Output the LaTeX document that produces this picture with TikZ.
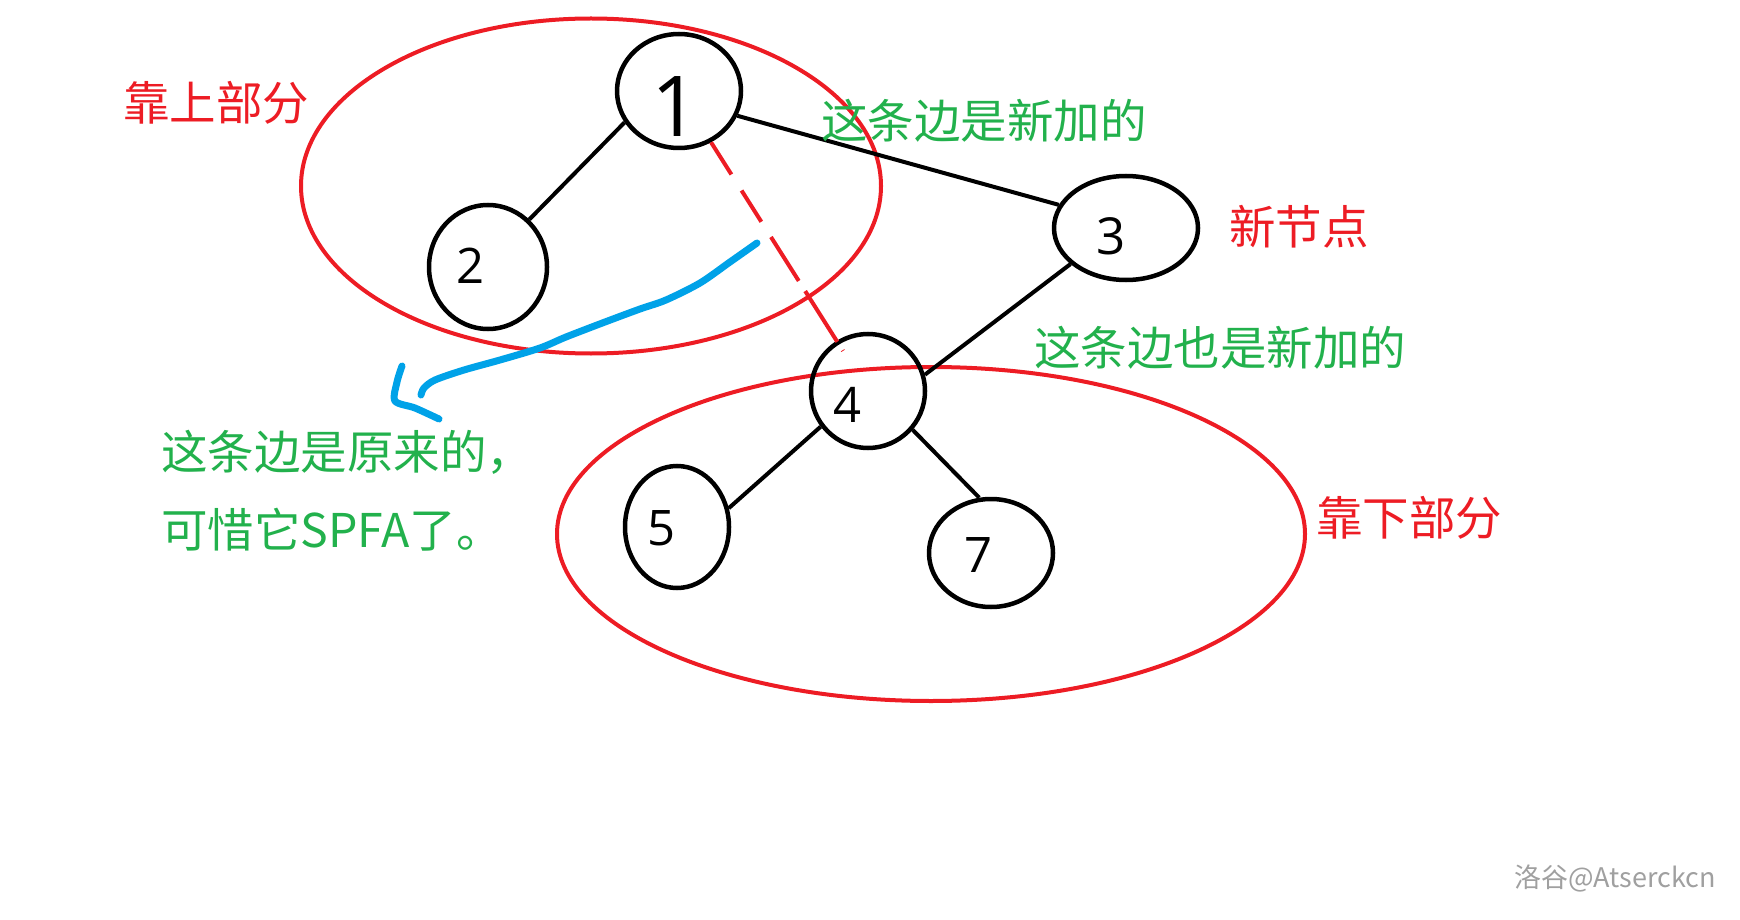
\documentclass[tikz,border=0pt]{standalone}
\usepackage{fontspec}
\newfontfamily\cjk{Noto Sans CJK SC}
\newfontfamily\digitfont{Open Sans}
\usetikzlibrary{shapes.geometric}
\definecolor{pred}{RGB}{237,28,36}
\definecolor{pgreen}{RGB}{34,177,76}
\definecolor{pblue}{RGB}{0,162,232}
\definecolor{wmgray}{RGB}{160,160,160}
\tikzset{
  vert/.style={draw=black, line width=4.5pt, ellipse, inner sep=0pt},
  digit/.style={inner sep=0pt, font=\digitfont\fontsize{49}{49}\selectfont},
  edge/.style={line width=4pt, black},
  region/.style={draw=pred, line width=4pt, ellipse, inner sep=0pt},
  rtext/.style={anchor=west, inner sep=0pt, text=pred, font=\cjk\fontsize{46.5}{56}\selectfont},
  gtext/.style={anchor=west, inner sep=0pt, text=pgreen, font=\cjk\fontsize{46.5}{56}\selectfont},
  scribble/.style={draw=pblue, line width=7pt, line cap=round, line join=round},
}
\begin{document}
\begin{tikzpicture}[x=1pt,y=-1pt]
\path[use as bounding box] (0,0) rectangle (1740,920);

% regions
\node[region, minimum width=580pt, minimum height=335pt] (upper) at (591,186) {};
\node[region, minimum width=748pt, minimum height=334pt] (lower) at (931,534) {};

% vertices
\node[vert, minimum width=124pt, minimum height=114pt] (n1) at (679,91) {};
\node[vert, minimum width=118pt, minimum height=124pt] (n2) at (488,267) {};
\node[vert, minimum width=144pt, minimum height=104pt] (n3) at (1126,228) {};
\node[vert, minimum width=114pt, minimum height=114pt] (n4) at (868,391) {};
\node[vert, minimum width=104pt, minimum height=122pt] (n5) at (677,527) {};
\node[vert, minimum width=124pt, minimum height=108pt] (n7) at (991,553) {};

% vertex labels
\node[digit, font=\digitfont\fontsize{84}{84}\selectfont] (t1) at (676,107) {1};
\node[digit] (t2) at (471,266) {2};
\node[digit, font=\digitfont\fontsize{51}{51}\selectfont] (t3) at (1111,236) {3};
\node[digit] (t4) at (847,405) {4};
\node[digit] (t5) at (662,528) {5};
\node[digit] (t7) at (978,555) {7};

% edges
\draw[edge] (n1.210) -- (n2.49);
\draw[edge] (n1.-23) -- (n3.161);
\draw[edge] (n3.-147) -- (n4.16);
\draw[edge] (n4.217) -- (n5.20);
\draw[edge] (n4.-41) -- (n7.102);
\draw[draw=pred, line width=4pt, shorten >=-12pt,
      dash pattern=on 38pt off 19pt on 37pt off 18pt on 52pt off 12pt on 60pt off 10pt]
      (n1.-58) -- (n4.122);

% blue hand-drawn arrow
\draw[scribble] plot[smooth, tension=0.5] coordinates {
  (757,243) (730,262) (700,283) (666,300) (640,309) (605,322) (566,337)
  (540,348) (500,360) (464,370) (435,380) (424,388) (421,395)};
\draw[scribble] plot[smooth, tension=0.5] coordinates {
  (402,366) (397,382) (395,401) (415,408) (439,419)};

% texts
\node[rtext] (lblup) at (123,103) {靠上部分};
\node[gtext] (lbl13) at (821,121) {这条边是新加的};
\node[rtext] (lblnew) at (1229,227) {新节点};
\node[gtext] (lbl34) at (1034,348) {这条边也是新加的};
\node[rtext] (lbldown) at (1316,518) {靠下部分};
\node[gtext] (lblorig1) at (161,452) {这条边是原来的，};
\node[gtext] (lblorig2) at (161,530) {可惜它SPFA了。};
\node[anchor=west, inner sep=0pt, text=wmgray, font=\cjk\fontsize{27}{30}\selectfont] (wm) at (1514,878) {洛谷@Atserckcn};
\end{tikzpicture}
\end{document}
